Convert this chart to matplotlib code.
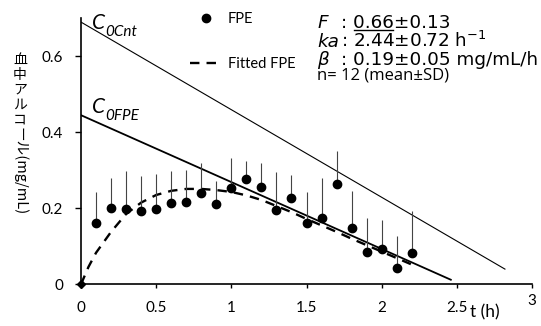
import matplotlib
matplotlib.use('Agg')
import matplotlib.pyplot as plt
import matplotlib.transforms as mtransforms
from matplotlib.lines import Line2D

# observed FPE data (mean and upper end of SD bar)
t_obs = [0.1, 0.2, 0.3, 0.4, 0.5, 0.6, 0.7, 0.8, 0.9, 1.0, 1.1,
         1.2, 1.3, 1.4, 1.5, 1.6, 1.7, 1.8, 1.9, 2.0, 2.1, 2.2]
c_mean = [0.161, 0.202, 0.197, 0.193, 0.199, 0.213, 0.216, 0.241, 0.211, 0.254, 0.277,
          0.255, 0.195, 0.226, 0.161, 0.175, 0.263, 0.147, 0.085, 0.093, 0.044, 0.082]
c_top = [0.244, 0.281, 0.299, 0.285, 0.290, 0.299, 0.301, 0.319, 0.273, 0.332, 0.324,
         0.318, 0.295, 0.288, 0.242, 0.279, 0.352, 0.245, 0.174, 0.170, 0.126, 0.194]

# fitted curve
t_fit = [0, 0.05, 0.1, 0.2, 0.3, 0.4, 0.5, 0.6, 0.7, 0.8, 0.9, 1.0,
         1.1, 1.2, 1.3, 1.4, 1.5, 1.6, 1.7, 1.8, 1.9, 2.0, 2.1, 2.2]
c_fit = [0, 0.046, 0.083, 0.138, 0.185, 0.215, 0.235, 0.246, 0.251, 0.251, 0.248, 0.243,
         0.234, 0.222, 0.206, 0.190, 0.172, 0.155, 0.138, 0.120, 0.103, 0.086, 0.069, 0.052]

# straight back-extrapolated lines (start / end)
cnt_t = [0, 2.82]
cnt_c = [0.69, 0.04]
fpe_t = [0, 2.46]
fpe_c = [0.445, 0.012]

x_ticks = [0, 0.5, 1, 1.5, 2, 2.5, 3]
x_labels = ['0', '0.5', '1', '1.5', '2', '2.5', '3']
y_ticks = [0, 0.2, 0.4, 0.6]
y_labels = ['0', '0.2', '0.4', '0.6']

W, H = 541, 326
fig = plt.figure(figsize=(W / 100, H / 100), dpi=100)
ax = fig.add_axes([81 / W, 41.7 / H, 451 / W, 266 / H])

def fxy(x, y):
    # pixel position from top-left -> figure fraction
    return x / W, 1 - y / H

ax.plot(cnt_t, cnt_c, color='black', lw=0.8)
ax.plot(fpe_t, fpe_c, color='black', lw=1.3)
ax.plot(t_fit, c_fit, color='black', lw=1.7, ls=(0, (4, 3)), label='Fitted FPE')
up = [top - m for top, m in zip(c_top, c_mean)]
ax.errorbar(t_obs, c_mean, yerr=[[0] * len(up), up], fmt='none', ecolor='#444444',
            elinewidth=0.8, capsize=0)
ax.plot(t_obs, c_mean, 'o', color='black', ms=6, label='FPE', zorder=5)
ax.plot([0], [0], 'D', color='black', ms=4.5, clip_on=False, zorder=6)

ax.set_xlim(0, 3)
ax.set_ylim(0, 0.70)
for s in ['top', 'right']:
    ax.spines[s].set_visible(False)
for s in ['left', 'bottom']:
    ax.spines[s].set_linewidth(1.2)
ax.set_xticks(x_ticks)
ax.set_xticklabels(x_labels, fontfamily='Lato', fontsize=11)
ax.set_yticks(y_ticks)
ax.set_yticklabels(y_labels, fontfamily='Lato', fontsize=11)
ax.tick_params(axis='x', direction='out', length=3, width=1, pad=9)
ax.tick_params(axis='y', direction='out', length=4, width=1, pad=9)
# the "3" label sits higher in the original
lab3 = ax.get_xticklabels()[-1]
lab3.set_transform(lab3.get_transform() + mtransforms.ScaledTranslation(0, 7 / 100, fig.dpi_scale_trans))

h = [ax.lines[-2], ax.lines[2]]
ax.legend(h, ['FPE', 'Fitted FPE'], loc='upper left', bbox_to_anchor=fxy(190, 12),
          bbox_transform=fig.transFigure, frameon=False, handlelength=2.2,
          handletextpad=0.4, labelspacing=2.1, prop={'family': 'Lato', 'size': 10.5},
          borderpad=0, borderaxespad=0)

# C0 labels
for y, sub in [(29, '0Cnt'), (113, '0FPE')]:
    c = fig.text(*fxy(92, y), 'C', fontsize=15, fontstyle='italic', fontfamily='Lato', va='baseline')
    ax.annotate(sub, xy=(1, 0), xycoords=c, xytext=(0, -2), textcoords='offset points',
                fontsize=11, fontstyle='italic', fontfamily='Lato', va='baseline')

# parameter box
pf = 'DejaVu Sans'
fs = 13.2
rows = [(28, 'F'), (47, 'ka'), (65, 'β')]
for y, sym in rows:
    fig.text(*fxy(317, y), sym, fontsize=fs, fontstyle='italic', fontfamily=pf, va='baseline')
fig.text(*fxy(341, 28), ': 0.66±0.13', fontsize=fs, fontfamily=pf, va='baseline')
fig.text(*fxy(341, 47), r': 2.44±0.72 h$^{\mathregular{-1}}$', fontsize=fs,
         fontfamily=pf, va='baseline')
fig.text(*fxy(341, 65), ': 0.19±0.05 mg/mL/h', fontsize=fs, fontfamily=pf, va='baseline')
fig.text(*fxy(317, 80), 'n= 12 (mean±SD)', fontsize=12, fontfamily='Open Sans', va='baseline')

# underline under 0.66: measure prefix widths with temporary texts
fig.canvas.draw()
r = fig.canvas.get_renderer()
def width_px(s):
    tmp = fig.text(0, 0, s, fontsize=fs, fontfamily=pf)
    w = tmp.get_window_extent(r).width
    tmp.remove()
    return w
x0 = 341 + width_px(': ')
x1 = 341 + width_px(': 0.66')
uy = 1 - 29.8 / H
fig.add_artist(Line2D([(x0 + 1) / W, (x1 - 1) / W], [uy, uy],
                      transform=fig.transFigure, color='black', lw=1))

# y label: upright CJK chars, then rotated remainder
cjk = ['Noto Sans CJK JP', 'DejaVu Sans']
for i, ch in enumerate('血中アルコ'):
    fig.text(*fxy(20, 60 + i * 15), ch, fontsize=10, family=cjk, ha='center', va='center')
fig.text(*fxy(20, 127), 'ール(mg/mL)', fontsize=10.5, family=cjk, rotation=-90,
         ha='center', va='top')

fig.text(*fxy(470, 317), 't (h)', fontsize=12.5, fontfamily='Lato', va='baseline')

fig.savefig('out.png', dpi=100)
